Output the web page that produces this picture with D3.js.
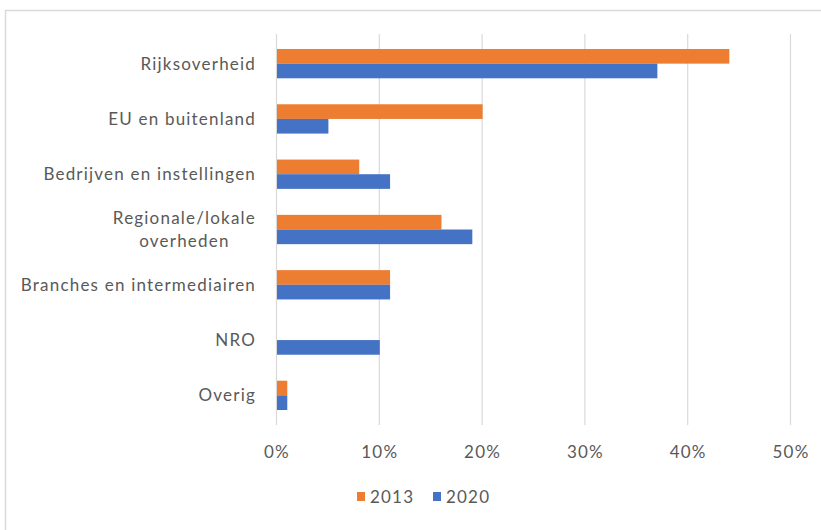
<!DOCTYPE html>
<html>
<head>
<meta charset="utf-8">
<script src="https://cdn.jsdelivr.net/npm/d3@7"></script>
<style>
  body { margin: 0; background: #fff; }
  text { font-family: Lato, "Open Sans", "DejaVu Sans", sans-serif; fill: #595959; letter-spacing: 1.2px; }
</style>
</head>
<body>
<div id="chart"></div>
<script>
// Data
const categories = ["Rijksoverheid", "EU en buitenland", "Bedrijven en instellingen",
    "Regionale/lokale overheden", "Branches en intermediairen", "NRO", "Overig"];
const series = ["2013", "2020"];
const values2013 = [44, 20, 8, 16, 11, 0, 1];
const values2020 = [37, 5, 11, 19, 11, 10, 1];
const xTicks = [0, 10, 20, 30, 40, 50];
const colors = ["#ed7d31", "#4472c4"];

// label lines, for the one that wraps
const labelLines = {
    "Regionale/lokale overheden": ["Regionale/lokale", "overheden"]
};

const W = 821, H = 530;
const margin = { top: 36, right: 31, bottom: 107, left: 276 };
const width = W - margin.left - margin.right;
const height = H - margin.top - margin.bottom;

const svg = d3.select("#chart").append("svg")
    .attr("width", W)
    .attr("height", H);

// outer chart border
svg.append("rect")
    .attr("x", 5.5).attr("y", 10.5)
    .attr("width", W).attr("height", H)
    .attr("fill", "none")
    .attr("stroke", "#d9d9d9")
    .attr("stroke-width", 1.5);

const g = svg.append("g")
    .attr("transform", `translate(${margin.left},${margin.top})`);

const x = d3.scaleLinear().domain([0, 50]).range([0, width]);
const y = d3.scaleBand().domain(categories).range([0, height]).paddingInner(0.47).paddingOuter(0.235);
const ySub = d3.scaleBand().domain(series).range([0, y.bandwidth()]);

// gridlines
g.selectAll(".grid")
    .data(xTicks)
    .enter().append("line")
    .attr("x1", d => x(d) + 0.5).attr("x2", d => x(d) + 0.5)
    .attr("y1", -2).attr("y2", height + 2)
    .attr("stroke", "#d9d9d9")
    .attr("stroke-width", 1.2);

// bars
const rows = categories.map((c, i) => ({ cat: c, vals: [values2013[i], values2020[i]] }));

const group = g.selectAll(".row")
    .data(rows)
    .enter().append("g")
    .attr("transform", d => `translate(0,${y(d.cat)})`);

group.selectAll("rect")
    .data(d => d.vals.map((v, j) => ({ key: series[j], v: v, j: j })))
    .enter().append("rect")
    .filter(d => d.v > 0)
    .attr("x", x(0) + 1)
    .attr("y", d => ySub(d.key))
    .attr("width", d => x(d.v) - x(0))
    .attr("height", ySub.bandwidth())
    .attr("fill", d => colors[d.j]);

// category labels, right aligned; wrapped ones centred under their widest line
const labelX = -20;
g.selectAll(".cat")
    .data(categories)
    .enter().append("text")
    .attr("class", "cat")
    .attr("y", d => y(d) + y.bandwidth() / 2)
    .style("font-size", "17px")
    .each(function (d) {
        const lines = labelLines[d] || [d];
        const t = d3.select(this);
        const spans = lines.map((ln, i) => t.append("tspan")
            .attr("dy", i === 0 ? (0.35 - (lines.length - 1) * 0.7) + "em" : "1.4em")
            .text(ln));
        if (lines.length === 1) {
            spans[0].attr("x", labelX).attr("text-anchor", "end");
        } else {
            const w = d3.max(spans, s => s.node().getComputedTextLength());
            spans.forEach(s => s.attr("x", labelX - w / 2).attr("text-anchor", "middle"));
        }
    });

// x axis labels
g.selectAll(".xtick")
    .data(xTicks)
    .enter().append("text")
    .attr("x", d => x(d) + 1)
    .attr("y", height + 35)
    .attr("text-anchor", "middle")
    .style("font-size", "17px")
    .text(d => d + "%");

// legend
const legend = svg.append("g").attr("transform", "translate(357,497)");
const item = legend.selectAll(".leg")
    .data(series)
    .enter().append("g")
    .attr("transform", (d, i) => `translate(${i * 76},0)`);
item.append("rect")
    .attr("x", 0).attr("y", -5)
    .attr("width", 8).attr("height", 9)
    .attr("fill", (d, i) => colors[i]);
item.append("text")
    .attr("x", 13).attr("y", 0)
    .attr("dy", "0.35em")
    .style("font-size", "17px")
    .text(d => d);
</script>
</body>
</html>
